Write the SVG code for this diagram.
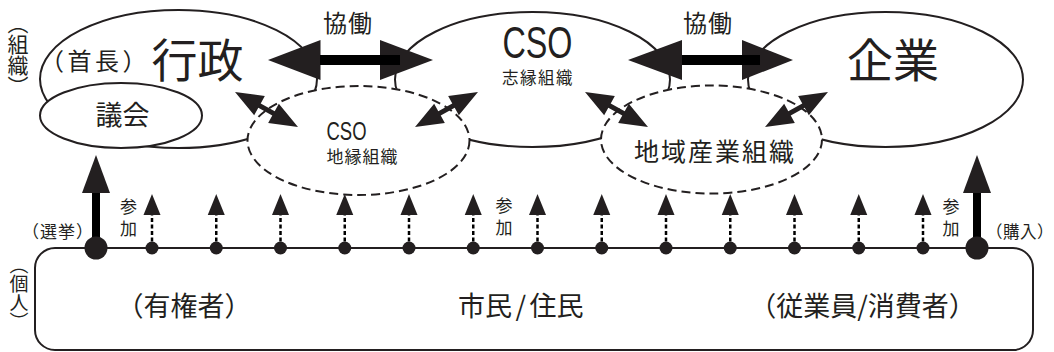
<svg xmlns="http://www.w3.org/2000/svg" width="1054" height="352" viewBox="0 0 1054 352">
<style>
.ln{fill:#fff;stroke:#231f20;stroke-width:2}
.dsh{fill:#fff;stroke:#231f20;stroke-width:2;stroke-dasharray:9 5}
.jp{font-family:"Noto Sans CJK JP","Noto Sans CJK SC",sans-serif;fill:#231f20}
.lat{font-family:"Liberation Sans Narrow","Liberation Sans",sans-serif;fill:#231f20}
.mid{text-anchor:middle}
.vt{writing-mode:vertical-rl;text-anchor:middle}
.vs{writing-mode:vertical-rl;text-anchor:start}
.blk{fill:#231f20}
.shaft{fill:#000}
.dl{stroke:#000;stroke-width:2.5;stroke-dasharray:4 2.5;fill:none}
</style>
<rect width="1054" height="352" fill="#fff"/>

<g id="label-soshiki">
<text class="jp vt" x="18" y="54.5" font-size="21">（組織）</text>
</g>
<g id="label-kojin">
<text class="jp vt" x="19" y="293" font-size="19">（個人）</text>
</g>

<g id="gyosei">
<ellipse class="ln" cx="178.5" cy="79" rx="138.5" ry="69"/>
<text class="jp mid" x="95" y="70" font-size="24" letter-spacing="3.5">（首長）</text>
<text class="jp mid" x="197.5" y="77" font-size="46">行政</text>
</g>
<g id="gikai">
<ellipse class="ln" cx="121" cy="115.5" rx="81" ry="32.5"/>
<text class="jp mid" x="122.5" y="125" font-size="27">議会</text>
</g>
<g id="cso-shien">
<ellipse class="ln" cx="532.5" cy="79.5" rx="137.5" ry="67.5"/>
<text class="lat mid" x="537.5" y="57.5" font-size="45" textLength="70" lengthAdjust="spacingAndGlyphs">CSO</text>
<text class="jp mid" x="538" y="84" font-size="16.5" letter-spacing="1.5">志縁組織</text>
</g>
<g id="kigyo">
<ellipse class="ln" cx="885.5" cy="79.5" rx="137.5" ry="67.5"/>
<text class="jp mid" x="893" y="77" font-size="46">企業</text>
</g>
<g id="cso-chien">
<ellipse class="dsh" cx="358.5" cy="140.5" rx="111" ry="54.5"/>
<text class="lat" x="326.5" y="140" font-size="25" textLength="40" lengthAdjust="spacingAndGlyphs">CSO</text>
<text class="jp mid" x="362.5" y="163" font-size="17" letter-spacing="1">地縁組織</text>
</g>
<g id="chiiki-sangyo">
<ellipse class="dsh" cx="711.5" cy="139.5" rx="110.5" ry="54"/>
<text class="jp mid" x="715" y="161" font-size="25" letter-spacing="2">地域産業組織</text>
</g>

<g id="kojin">
<rect class="ln" x="35" y="248" width="998" height="102" rx="20" ry="20" fill="none"/>
<text class="jp mid" x="184" y="316" font-size="27">（有権者）</text>
<text class="jp" x="458" y="316" font-size="27">市民<tspan dx="3.5">/</tspan><tspan dx="3.5">住民</tspan></text>
<text class="jp mid" x="862.5" y="316" font-size="27">（従業員/消費者）</text>
</g>

<g id="connectors">
<!-- 協働 left -->
<text class="jp mid" x="348" y="31.5" font-size="24" letter-spacing="1">協働</text>
<polygon class="blk" points="268,60 320.5,40 320.5,80"/>
<polygon class="blk" points="433,60 380,40 380,80"/>
<rect class="shaft" x="320" y="55" width="80" height="10"/>
<!-- 協働 right -->
<text class="jp mid" x="708" y="31.5" font-size="24" letter-spacing="1">協働</text>
<polygon class="blk" points="628,60 682,40 682,80"/>
<polygon class="blk" points="793,60 742,40 742,80"/>
<rect class="shaft" x="682" y="55" width="78" height="10"/>

<!-- diagonal double arrows -->
<g transform="translate(266.5,109.5) rotate(29)"><polygon class="blk" points="-36,0 -8,-11 -8,-2.5 8,-2.5 8,-11 36,0 8,11 8,2.5 -8,2.5 -8,11"/></g>
<g transform="translate(446.5,109.5) rotate(-29)"><polygon class="blk" points="-36,0 -8,-11 -8,-2.5 8,-2.5 8,-11 36,0 8,11 8,2.5 -8,2.5 -8,11"/></g>
<g transform="translate(616.5,109.5) rotate(29)"><polygon class="blk" points="-36,0 -8,-11 -8,-2.5 8,-2.5 8,-11 36,0 8,11 8,2.5 -8,2.5 -8,11"/></g>
<g transform="translate(796.5,109.5) rotate(-29)"><polygon class="blk" points="-36,0 -8,-11 -8,-2.5 8,-2.5 8,-11 36,0 8,11 8,2.5 -8,2.5 -8,11"/></g>

<!-- thick vertical arrows -->
<rect class="shaft" x="92" y="190" width="8" height="58"/>
<polygon class="blk" points="96,155 82,193 110,193"/>
<circle class="blk" cx="96" cy="248" r="11.5"/>
<text class="jp mid" x="58" y="238" font-size="17" letter-spacing="1">（選挙）</text>

<rect class="shaft" x="973" y="190" width="8" height="58"/>
<polygon class="blk" points="977,155 963,193 991,193"/>
<circle class="blk" cx="977" cy="248" r="11.5"/>
<text class="jp mid" x="1020" y="238" font-size="16.5" letter-spacing="0.5">（購入）</text>

<!-- 参加 labels -->
<text class="jp vs" x="128.5" y="198.5" font-size="17" letter-spacing="5">参加</text>
<text class="jp vs" x="504" y="197.5" font-size="17" letter-spacing="5">参加</text>
<text class="jp vs" x="951" y="198.5" font-size="17" letter-spacing="5">参加</text>

<!-- small participation arrows -->
<g id="p1"><line class="dl" x1="152" y1="248" x2="152" y2="213"/><polygon class="blk" points="152,194 143.5,215 160.5,215"/><circle class="blk" cx="152" cy="248" r="6.5"/></g>
<g id="p2"><line class="dl" x1="216.25" y1="248" x2="216.25" y2="213"/><polygon class="blk" points="216.25,194 207.75,215 224.75,215"/><circle class="blk" cx="216.25" cy="248" r="6.5"/></g>
<g id="p3"><line class="dl" x1="280.5" y1="248" x2="280.5" y2="213"/><polygon class="blk" points="280.5,194 272,215 289,215"/><circle class="blk" cx="280.5" cy="248" r="6.5"/></g>
<g id="p4"><line class="dl" x1="344.75" y1="248" x2="344.75" y2="213"/><polygon class="blk" points="344.75,194 336.25,215 353.25,215"/><circle class="blk" cx="344.75" cy="248" r="6.5"/></g>
<g id="p5"><line class="dl" x1="409" y1="248" x2="409" y2="213"/><polygon class="blk" points="409,194 400.5,215 417.5,215"/><circle class="blk" cx="409" cy="248" r="6.5"/></g>
<g id="p6"><line class="dl" x1="473.25" y1="248" x2="473.25" y2="213"/><polygon class="blk" points="473.25,194 464.75,215 481.75,215"/><circle class="blk" cx="473.25" cy="248" r="6.5"/></g>
<g id="p7"><line class="dl" x1="537.5" y1="248" x2="537.5" y2="213"/><polygon class="blk" points="537.5,194 529,215 546,215"/><circle class="blk" cx="537.5" cy="248" r="6.5"/></g>
<g id="p8"><line class="dl" x1="601.75" y1="248" x2="601.75" y2="213"/><polygon class="blk" points="601.75,194 593.25,215 610.25,215"/><circle class="blk" cx="601.75" cy="248" r="6.5"/></g>
<g id="p9"><line class="dl" x1="666" y1="248" x2="666" y2="213"/><polygon class="blk" points="666,194 657.5,215 674.5,215"/><circle class="blk" cx="666" cy="248" r="6.5"/></g>
<g id="p10"><line class="dl" x1="730.25" y1="248" x2="730.25" y2="213"/><polygon class="blk" points="730.25,194 721.75,215 738.75,215"/><circle class="blk" cx="730.25" cy="248" r="6.5"/></g>
<g id="p11"><line class="dl" x1="794.5" y1="248" x2="794.5" y2="213"/><polygon class="blk" points="794.5,194 786,215 803,215"/><circle class="blk" cx="794.5" cy="248" r="6.5"/></g>
<g id="p12"><line class="dl" x1="858.75" y1="248" x2="858.75" y2="213"/><polygon class="blk" points="858.75,194 850.25,215 867.25,215"/><circle class="blk" cx="858.75" cy="248" r="6.5"/></g>
<g id="p13"><line class="dl" x1="923" y1="248" x2="923" y2="213"/><polygon class="blk" points="923,194 914.5,215 931.5,215"/><circle class="blk" cx="923" cy="248" r="6.5"/></g>
</g>
</svg>
